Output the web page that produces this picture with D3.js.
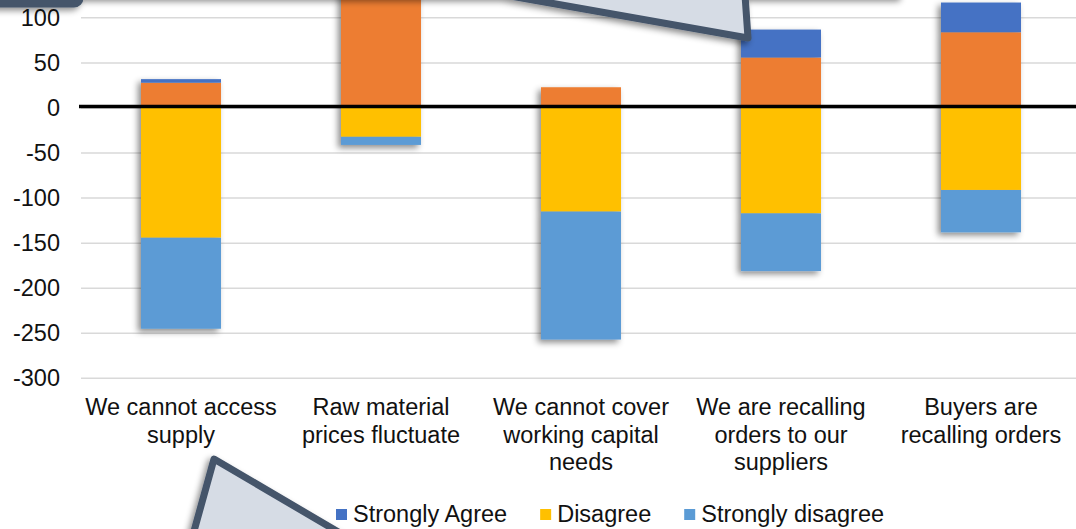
<!DOCTYPE html>
<html>
<head>
<meta charset="utf-8">
<script src="https://cdn.jsdelivr.net/npm/d3@7"></script>
<style>
  body { margin: 0; background: #fff; overflow: hidden; }
  text { font-family: "Liberation Sans", Arial, sans-serif; }
</style>
</head>
<body>
<div id="chart"></div>
<script>
// survey answers per statement (agree side positive, disagree side negative)
var categories = ["We cannot access\nsupply", "Raw material\nprices fluctuate", "We cannot cover\nworking capital\nneeds", "We are recalling\norders to our\nsuppliers", "Buyers are\nrecalling orders"];
var stronglyAgree = [4, 0, 0, 31, 33];
var agree = [28, 150, 23, 56, 84];
var disagree = [-144, -32, -115, -117, -91];
var stronglyDisagree = [-101, -9, -142, -64, -47];
var yTicks = [-300, -250, -200, -150, -100, -50, 0, 50, 100];
var legendNames = ["Strongly Agree", "Disagree", "Strongly disagree"];

var colors = {
  "Strongly Agree": "#4472c4",
  "Agree": "#ed7d31",
  "Disagree": "#ffc000",
  "Strongly disagree": "#5b9bd5"
};

var W = 1076, H = 529;
var fs = 23.5;
var svg = d3.select("#chart").append("svg")
    .attr("width", W).attr("height", H);

var defs = svg.append("defs");
var f = defs.append("filter").attr("id", "shadow")
    .attr("x", "-20%").attr("y", "-20%").attr("width", "140%").attr("height", "140%");
f.append("feDropShadow").attr("dx", -3).attr("dy", 3)
    .attr("stdDeviation", 3).attr("flood-color", "#000").attr("flood-opacity", 0.45);

var rows = categories.map(function (c, i) {
  return {
    cat: c,
    "Agree": agree[i],
    "Strongly Agree": stronglyAgree[i],
    "Disagree": disagree[i],
    "Strongly disagree": stronglyDisagree[i]
  };
});

var x = d3.scaleBand().domain(categories).range([81, 1081]).paddingInner(0.6).paddingOuter(0.3);
var y = d3.scaleLinear().domain([-300, 150]).range([378.3, -27.2]);

// gridlines
svg.append("g").selectAll("line").data(yTicks).enter().append("line")
    .attr("x1", 81).attr("x2", W)
    .attr("y1", function (d) { return y(d); })
    .attr("y2", function (d) { return y(d); })
    .attr("stroke", "#d9d9d9").attr("stroke-width", 1.5);

// stacked bars
var stack = d3.stack()
    .keys(["Agree", "Strongly Agree", "Disagree", "Strongly disagree"])
    .offset(d3.stackOffsetDiverging);
var series = stack(rows);

var barLayer = svg.append("g").attr("filter", "url(#shadow)");
barLayer.selectAll("g").data(series).enter().append("g")
    .attr("fill", function (s) { return colors[s.key]; })
  .selectAll("rect").data(function (s) { return s; }).enter().append("rect")
    .attr("x", function (d) { return x(d.data.cat); })
    .attr("width", x.bandwidth())
    .attr("y", function (d) { return y(Math.max(d[0], d[1])); })
    .attr("height", function (d) { return Math.abs(y(d[0]) - y(d[1])); });

// zero line
svg.append("line")
    .attr("x1", 79).attr("x2", W)
    .attr("y1", y(0) - 1.5).attr("y2", y(0) - 1.5)
    .attr("stroke", "#000").attr("stroke-width", 3.5);

// y axis labels (plain hyphen minus like the original)
var yAxis = d3.axisLeft(y).tickValues(yTicks).tickSize(0).tickPadding(0)
    .tickFormat(function (d) { return String(d); });
var ya = svg.append("g").attr("transform", "translate(60,0)").call(yAxis);
ya.select(".domain").remove();
ya.selectAll("text").attr("font-size", fs).attr("fill", "#111")
    .attr("font-family", "Liberation Sans, Arial, sans-serif");

// category labels
var cl = svg.append("g").selectAll("text").data(categories).enter().append("text")
    .attr("text-anchor", "middle").attr("font-size", fs).attr("fill", "#111")
    .attr("transform", function (d) { return "translate(" + (x(d) + x.bandwidth() / 2) + ",415)"; });
cl.selectAll("tspan").data(function (d) { return d.split("\n"); }).enter().append("tspan")
    .attr("x", 0).attr("y", function (d, i) { return i * 27.5; })
    .text(function (d) { return d; });

// legend
var lg = svg.append("g").attr("transform", "translate(336,0)");
var lx = 0;
legendNames.forEach(function (name) {
  var g = lg.append("g").attr("transform", "translate(" + lx + ",0)");
  g.append("rect").attr("x", 0).attr("y", 509).attr("width", 11).attr("height", 11)
      .attr("fill", colors[name]);
  var t = g.append("text").attr("x", 17).attr("y", 522).attr("font-size", fs)
      .attr("fill", "#111").text(name);
  lx += 17 + t.node().getComputedTextLength() + 33;
});

// callout shapes laid over the chart
var callouts = svg.append("g").attr("filter", "url(#shadow)")
    .attr("fill", "#d6dce5").attr("stroke", "#44546a")
    .attr("stroke-width", 7).attr("stroke-linejoin", "round");

callouts.append("rect")
    .attr("x", -30).attr("y", -60).attr("width", 110).attr("height", 64).attr("rx", 6)
    .attr("fill", "#44546a");

callouts.append("path")
    .attr("d", "M60,-120 H900 V-5 H745 L748,38 L505,-5 H60 Z");

callouts.append("path")
    .attr("d", "M186,560 L214,459 L386,560 Z");
</script>
</body>
</html>
